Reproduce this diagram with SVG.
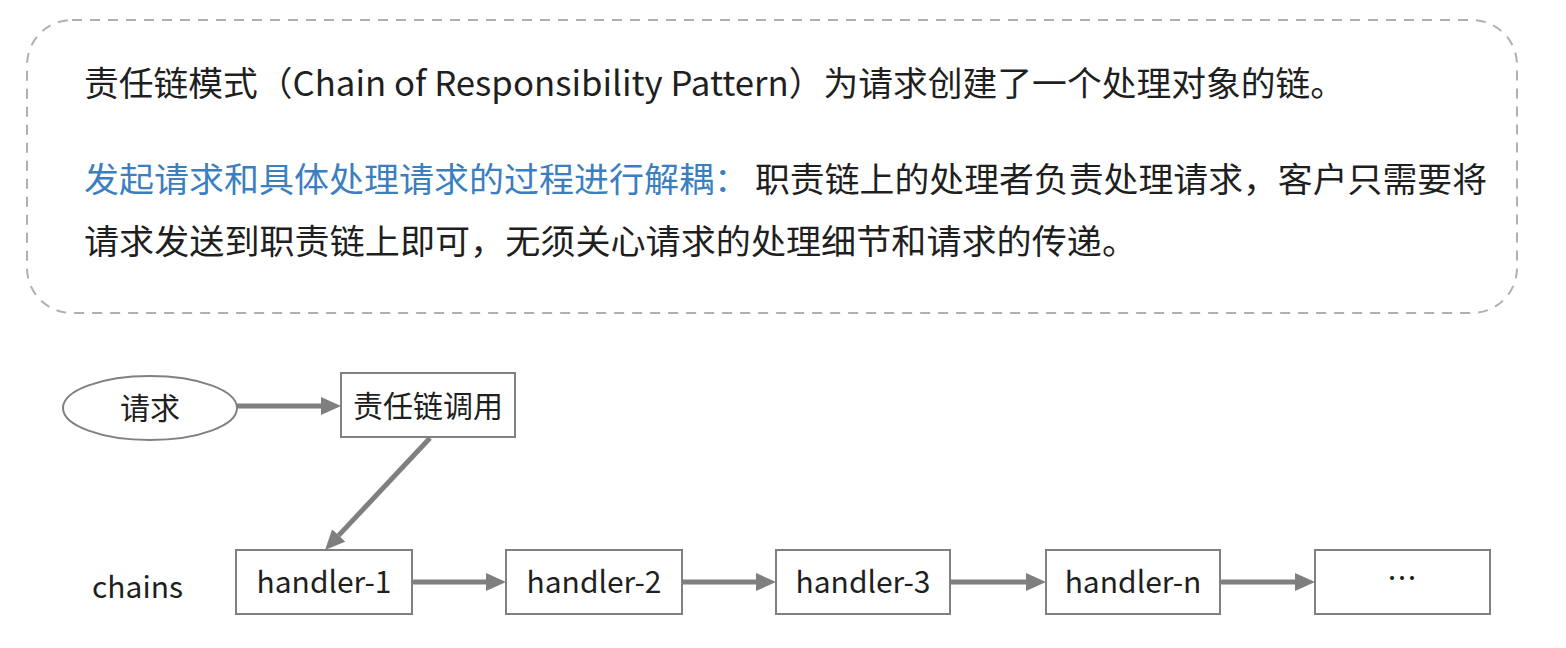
<svg xmlns="http://www.w3.org/2000/svg" width="1566" height="648" viewBox="0 0 1566 648">
  <style>
    .txt { font-family: "Noto Sans CJK SC", "Noto Sans", sans-serif; fill: #1f1f1f; }
    .blue { fill: #3b7fc0; }
    .node { fill: #ffffff; stroke: #808080; stroke-width: 2; }
    .lbl { font-family: "Noto Sans CJK SC", "Noto Sans", sans-serif; font-size: 30px; fill: #1f1f1f; text-anchor: middle; dominant-baseline: central; }
    .conn { stroke: #7f7f7f; stroke-width: 5; fill: none; }
  </style>
  <defs>
    <marker id="ah" viewBox="0 0 20 18" refX="0" refY="9" markerWidth="20" markerHeight="18" markerUnits="userSpaceOnUse" orient="auto">
      <path d="M0,0 L20,9 L0,18 z" fill="#7f7f7f"/>
    </marker>
  </defs>
  <rect width="1566" height="648" fill="#ffffff"/>

  <g id="intro">
    <rect x="27" y="20" width="1490" height="293" rx="45" ry="45" fill="none" stroke="#b0b0b0" stroke-width="2" stroke-dasharray="10 8"/>
    <text class="txt" x="84" y="96" font-size="34" textLength="1261" lengthAdjust="spacingAndGlyphs">责任链模式（Chain of Responsibility Pattern）为请求创建了一个处理对象的链。</text>
    <text class="txt blue" x="84" y="192" font-size="34" textLength="665" lengthAdjust="spacingAndGlyphs">发起请求和具体处理请求的过程进行解耦：</text>
    <text class="txt" x="755" y="192" font-size="34" textLength="732" lengthAdjust="spacingAndGlyphs">职责链上的处理者负责处理请求，客户只需要将</text>
    <text class="txt" x="84" y="254" font-size="34" textLength="1053" lengthAdjust="spacingAndGlyphs">请求发送到职责链上即可，无须关心请求的处理细节和请求的传递。</text>
  </g>

  <g id="connectors">
    <line class="conn" x1="237" y1="406" x2="321" y2="406" marker-end="url(#ah)"/>
    <line class="conn" x1="430" y1="438" x2="338.7" y2="535.4" marker-end="url(#ah)"/>
    <line class="conn" x1="412" y1="582" x2="486" y2="582" marker-end="url(#ah)"/>
    <line class="conn" x1="682" y1="582" x2="756" y2="582" marker-end="url(#ah)"/>
    <line class="conn" x1="950" y1="582" x2="1026" y2="582" marker-end="url(#ah)"/>
    <line class="conn" x1="1220" y1="582" x2="1295" y2="582" marker-end="url(#ah)"/>
  </g>

  <g id="request">
    <ellipse class="node" cx="150" cy="408" rx="87" ry="32"/>
    <text class="lbl" x="150" y="406">请求</text>
  </g>
  <g id="chain-call">
    <rect class="node" x="341" y="373" width="174" height="64"/>
    <text class="lbl" x="428" y="404">责任链调用</text>
  </g>
  <g id="chains-label">
    <text class="txt" x="92" y="598" font-size="30">chains</text>
  </g>
  <g id="handler-1">
    <rect class="node" x="236" y="550" width="176" height="64"/>
    <text class="lbl" x="324" y="580">handler-1</text>
  </g>
  <g id="handler-2">
    <rect class="node" x="506" y="550" width="176" height="64"/>
    <text class="lbl" x="594" y="580">handler-2</text>
  </g>
  <g id="handler-3">
    <rect class="node" x="776" y="550" width="174" height="64"/>
    <text class="lbl" x="863" y="580">handler-3</text>
  </g>
  <g id="handler-n">
    <rect class="node" x="1046" y="550" width="174" height="64"/>
    <text class="lbl" x="1133" y="580">handler-n</text>
  </g>
  <g id="more">
    <rect class="node" x="1315" y="550" width="175" height="64"/>
    <text class="lbl" x="1402" y="576">…</text>
  </g>
</svg>
